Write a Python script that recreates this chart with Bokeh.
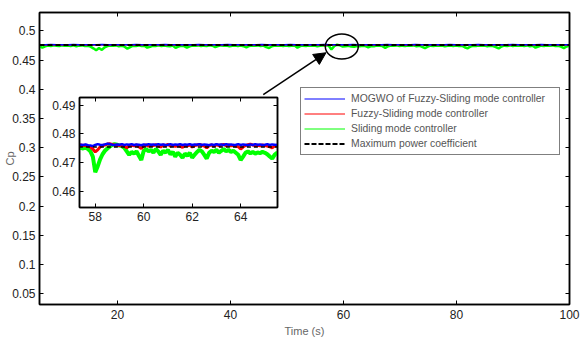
import numpy as np
from bokeh.plotting import figure
from bokeh.models import (Range1d, LinearAxis, FixedTicker, Legend, LegendItem,
                          Arrow, NormalHead, CustomLabelingPolicy)
from bokeh.layouts import column
from bokeh.embed import file_html
from bokeh.resources import INLINE

# ---------------- data ----------------
x_ticks = [20, 40, 60, 80, 100]
x_tick_labels = ["20", "40", "60", "80", "100"]
y_ticks = [0.05, 0.1, 0.15, 0.2, 0.25, 0.3, 0.35, 0.4, 0.45, 0.5]
y_tick_labels = ["0.05", "0.1", "0.15", "0.2", "0.25", "0.3", "0.35", "0.4", "0.45", "0.5"]
inset_x_ticks = [58, 60, 62, 64]
inset_x_tick_labels = ["58", "60", "62", "64"]
inset_y_ticks = [0.46, 0.47, 0.48, 0.49]
inset_y_tick_labels = ["0.46", "0.47", "0.48", "0.49"]

series_labels = ["MOGWO of Fuzzy-Sliding mode controller", "Fuzzy-Sliding mode controller",
                 "Sliding mode controller", "Maximum power coefficient"]
x_title = "Time (s)"
y_title = "Cp"

t_start, t_end = 6.2, 100.0
cp_min_view, cp_max_view = 0.0317, 0.5313
cp_max = [0.4755, 0.4755]

# main view: Sliding mode controller (0.5 s sampling)
smc_main = [
    0.4742, 0.4710, 0.4735, 0.4748, 0.4740, 0.4752, 0.4745, 0.4738, 0.4750, 0.4742, 0.4748,
    0.4740, 0.4752, 0.4736, 0.4746, 0.4750, 0.4738, 0.4744, 0.4730, 0.4700, 0.4668,
    0.4705, 0.4672, 0.4718, 0.4740, 0.4748, 0.4742, 0.4750, 0.4736, 0.4745, 0.4728,
    0.4695, 0.4722, 0.4745, 0.4740, 0.4750, 0.4738, 0.4745, 0.4712, 0.4725, 0.4746,
    0.4740, 0.4752, 0.4738, 0.4748, 0.4741, 0.4735, 0.4748, 0.4708, 0.4730, 0.4745,
    0.4738, 0.4712, 0.4735, 0.4748, 0.4742, 0.4750, 0.4738, 0.4746, 0.4740, 0.4752,
    0.4745, 0.4722, 0.4738, 0.4750, 0.4743, 0.4748, 0.4736, 0.4745, 0.4750, 0.4740,
    0.4748, 0.4736, 0.4715, 0.4740, 0.4748, 0.4742, 0.4750, 0.4738, 0.4746, 0.4720,
    0.4705, 0.4735, 0.4748, 0.4742, 0.4750, 0.4740, 0.4747, 0.4738, 0.4745, 0.4748,
    0.4712, 0.4738, 0.4746, 0.4740, 0.4750, 0.4742, 0.4748, 0.4736, 0.4745, 0.4750,
    0.4752, 0.4748, 0.4680, 0.4738, 0.4762, 0.4750, 0.4732, 0.4735, 0.4745, 0.4732,
    0.4725, 0.4740, 0.4736, 0.4745, 0.4740, 0.4718, 0.4740, 0.4736, 0.4748, 0.4742,
    0.4738, 0.4708, 0.4735, 0.4748, 0.4742, 0.4750, 0.4738, 0.4746, 0.4740, 0.4748,
    0.4742, 0.4750, 0.4736, 0.4745, 0.4725, 0.4702, 0.4730, 0.4746, 0.4740, 0.4750,
    0.4743, 0.4748, 0.4736, 0.4745, 0.4750, 0.4740, 0.4747, 0.4738, 0.4745, 0.4718,
    0.4700, 0.4728, 0.4745, 0.4740, 0.4750, 0.4742, 0.4748, 0.4736, 0.4745, 0.4740,
    0.4722, 0.4698, 0.4732, 0.4746, 0.4740, 0.4750, 0.4738, 0.4746, 0.4742, 0.4748,
    0.4740, 0.4750, 0.4736, 0.4745, 0.4712, 0.4730, 0.4746, 0.4740, 0.4748, 0.4742,
    0.4750, 0.4738, 0.4745, 0.4728, 0.4705, 0.4732, 0.4745,
]
# main view: MOGWO and Fuzzy-Sliding (1 s sampling)
mogwo_main = [
    0.4763, 0.4761, 0.4764, 0.4762, 0.4763, 0.4760, 0.4764, 0.4762, 0.4761, 0.4763,
    0.4762, 0.4764, 0.4761, 0.4763, 0.4762, 0.4760, 0.4763, 0.4764, 0.4762, 0.4761,
    0.4763, 0.4762, 0.4764, 0.4761, 0.4763, 0.4762, 0.4760, 0.4763, 0.4764, 0.4762,
    0.4761, 0.4763, 0.4762, 0.4764, 0.4761, 0.4763, 0.4762, 0.4760, 0.4763, 0.4764,
    0.4762, 0.4761, 0.4763, 0.4762, 0.4764, 0.4761, 0.4763, 0.4762, 0.4760, 0.4763,
    0.4764, 0.4762, 0.4761, 0.4763, 0.4762, 0.4764, 0.4761, 0.4763, 0.4762, 0.4760,
    0.4763, 0.4764, 0.4762, 0.4761, 0.4763, 0.4762, 0.4764, 0.4761, 0.4763, 0.4762,
    0.4760, 0.4763, 0.4764, 0.4762, 0.4761, 0.4763, 0.4762, 0.4764, 0.4761, 0.4763,
    0.4762, 0.4760, 0.4763, 0.4764, 0.4762, 0.4761, 0.4763, 0.4762, 0.4764, 0.4761,
    0.4763, 0.4762, 0.4760, 0.4763,
]
fsmc_main = [
    0.4760, 0.4758, 0.4761, 0.4759, 0.4760, 0.4756, 0.4761, 0.4760, 0.4758, 0.4754,
    0.4760, 0.4761, 0.4759, 0.4760, 0.4757, 0.4761, 0.4760, 0.4752, 0.4759, 0.4760,
    0.4761, 0.4758, 0.4760, 0.4759, 0.4755, 0.4760, 0.4761, 0.4759, 0.4760, 0.4758,
    0.4761, 0.4760, 0.4756, 0.4759, 0.4760, 0.4761, 0.4758, 0.4760, 0.4759, 0.4761,
    0.4753, 0.4760, 0.4759, 0.4761, 0.4760, 0.4758, 0.4760, 0.4761, 0.4759, 0.4760,
    0.4748, 0.4759, 0.4761, 0.4760, 0.4758, 0.4760, 0.4761, 0.4755, 0.4760, 0.4759,
    0.4761, 0.4760, 0.4758, 0.4760, 0.4754, 0.4761, 0.4759, 0.4760, 0.4761, 0.4758,
    0.4760, 0.4759, 0.4761, 0.4760, 0.4756, 0.4760, 0.4761, 0.4759, 0.4760, 0.4758,
    0.4761, 0.4760, 0.4753, 0.4759, 0.4760, 0.4761, 0.4758, 0.4760, 0.4759, 0.4761,
    0.4760, 0.4757, 0.4760, 0.4759,
]

# zoomed window (0.1 s sampling from 57.3 s)
inset_t0, inset_dt = 57.3, 0.1
smc_zoom = [
    0.4750, 0.4752, 0.4750, 0.4753, 0.4748, 0.4740, 0.4722, 0.4668, 0.4688, 0.4712, 0.4730,
    0.4742, 0.4750, 0.4756, 0.4762, 0.4765, 0.4763, 0.4760, 0.4758, 0.4752, 0.4740,
    0.4728, 0.4738, 0.4732, 0.4740, 0.4725, 0.4710, 0.4742, 0.4748, 0.4740, 0.4745,
    0.4735, 0.4748, 0.4740, 0.4728, 0.4742, 0.4736, 0.4745, 0.4730, 0.4738, 0.4722,
    0.4735, 0.4728, 0.4718, 0.4732, 0.4725, 0.4735, 0.4718, 0.4728, 0.4738, 0.4745,
    0.4740, 0.4728, 0.4715, 0.4735, 0.4742, 0.4738, 0.4745, 0.4735, 0.4742, 0.4748,
    0.4740, 0.4745, 0.4738, 0.4742, 0.4735, 0.4728, 0.4710, 0.4722, 0.4735, 0.4740,
    0.4733, 0.4738, 0.4732, 0.4736, 0.4734, 0.4738, 0.4735, 0.4730, 0.4722, 0.4715,
    0.4728, 0.4735, 0.4730,
]
fsmc_zoom = [
    0.4761, 0.4762, 0.4760, 0.4761, 0.4758, 0.4755, 0.4748, 0.4738, 0.4745, 0.4755, 0.4760,
    0.4762, 0.4765, 0.4766, 0.4764, 0.4762, 0.4761, 0.4760, 0.4762, 0.4758, 0.4752,
    0.4760, 0.4761, 0.4759, 0.4762, 0.4756, 0.4750, 0.4760, 0.4762, 0.4758, 0.4761,
    0.4760, 0.4763, 0.4759, 0.4755, 0.4762, 0.4760, 0.4764, 0.4758, 0.4761, 0.4757,
    0.4760, 0.4758, 0.4754, 0.4761, 0.4759, 0.4762, 0.4755, 0.4760, 0.4762, 0.4764,
    0.4761, 0.4758, 0.4752, 0.4760, 0.4762, 0.4759, 0.4763, 0.4760, 0.4762, 0.4764,
    0.4760, 0.4762, 0.4759, 0.4761, 0.4758, 0.4756, 0.4748, 0.4755, 0.4760, 0.4763,
    0.4765, 0.4762, 0.4760, 0.4761, 0.4759, 0.4762, 0.4760, 0.4758, 0.4756, 0.4752,
    0.4758, 0.4761, 0.4760,
]
mogwo_zoom = [
    0.4763, 0.4763, 0.4762, 0.4764, 0.4761, 0.4760, 0.4758, 0.4762, 0.4765, 0.4763,
    0.4762, 0.4764, 0.4766, 0.4765, 0.4763, 0.4762, 0.4764, 0.4763, 0.4765, 0.4762,
    0.4764, 0.4763, 0.4765, 0.4762, 0.4764, 0.4763, 0.4761, 0.4764, 0.4762, 0.4765,
    0.4763, 0.4764, 0.4762, 0.4765, 0.4763, 0.4764, 0.4762, 0.4763, 0.4765, 0.4762,
    0.4764, 0.4763, 0.4765, 0.4762, 0.4764, 0.4763, 0.4765, 0.4762, 0.4764, 0.4763,
    0.4765, 0.4762, 0.4764, 0.4763, 0.4761, 0.4764, 0.4762, 0.4765, 0.4763, 0.4764,
    0.4762, 0.4765, 0.4763, 0.4764, 0.4762, 0.4763, 0.4765, 0.4762, 0.4764, 0.4763,
    0.4761, 0.4764, 0.4762, 0.4765, 0.4763, 0.4764, 0.4762, 0.4763, 0.4765, 0.4762,
    0.4764, 0.4763, 0.4762, 0.4764,
]

# sampling instants
t_smc_main = np.linspace(t_start, t_end, len(smc_main))
t_main = np.linspace(t_start, t_end, len(mogwo_main))
t_zoom = inset_t0 + inset_dt * np.arange(len(mogwo_zoom))
t_cp = [t_start, t_end]

# ---------------- style ----------------
FONT = "Liberation Sans"
BLUE, RED, GREEN = "#0000ff", "#ff0000", "#00ff00"
NO_LABELS = CustomLabelingPolicy(code="for (const i of Array.from(indices)) indices.unset(i)")


def style_axis(ax, ticks, labels, show=True, standoff=4):
    ax.ticker = FixedTicker(ticks=ticks)
    ax.major_tick_in = 4
    ax.major_tick_out = 0
    ax.minor_tick_in = 0
    ax.minor_tick_out = 0
    ax.axis_line_color = "black"
    ax.axis_line_width = 1.5
    ax.major_tick_line_color = "black"
    ax.major_tick_line_width = 1
    ax.major_label_text_font = FONT
    ax.major_label_text_color = "#222222"
    if show:
        ax.major_label_overrides = dict(zip(ticks, labels))
        ax.major_label_text_font_size = "12px"
        ax.major_label_standoff = standoff
    else:
        ax.major_label_policy = NO_LABELS
        ax.major_label_text_font_size = "0px"
        ax.major_label_standoff = 0


p = figure(width=580, height=340, output_backend="svg", toolbar_location=None,
           x_range=Range1d(t_start, t_end), y_range=Range1d(cp_min_view, cp_max_view),
           min_border_left=39, min_border_right=11, min_border_top=12,
           min_border_bottom=36)
p.grid.visible = False
p.outline_line_color = "black"
p.outline_line_width = 1.5
p.background_fill_color = "white"
p.border_fill_color = "white"

style_axis(p.xaxis[0], x_ticks, x_tick_labels, standoff=5)
style_axis(p.yaxis[0], y_ticks, y_tick_labels, standoff=4)
p.xaxis[0].axis_label = x_title
p.yaxis[0].axis_label = y_title
for ax in (p.xaxis[0], p.yaxis[0]):
    ax.axis_label_text_font = FONT
    ax.axis_label_text_font_size = "11px"
    ax.axis_label_text_font_style = "normal"
    ax.axis_label_text_color = "#666666"
p.xaxis[0].axis_label_standoff = 3
p.yaxis[0].axis_label_standoff = -7

top_ax = LinearAxis()
style_axis(top_ax, x_ticks, x_tick_labels, show=False)
p.add_layout(top_ax, "above")
right_ax = LinearAxis()
style_axis(right_ax, y_ticks, y_tick_labels, show=False)
p.add_layout(right_ax, "right")

r_smc = p.line(t_smc_main, smc_main, line_color=GREEN, line_width=2.5)
r_fsmc = p.line(t_main, fsmc_main, line_color=RED, line_width=1.5)
r_mogwo = p.line(t_main, mogwo_main, line_color=BLUE, line_width=1.5)
r_cp = p.line(t_cp, cp_max, line_color="black", line_width=2, line_dash="5 3")

# zoom marker + arrow
p.ellipse(x=[59.7], y=[0.4732], width=33, height=25, width_units="screen",
          height_units="screen", fill_color=None, line_color="black", line_width=1.5)
p.add_layout(Arrow(end=NormalHead(size=12, fill_color="black", line_color="black"),
                   x_start=45.8, y_start=0.3906, x_end=56.9, y_end=0.4624,
                   line_color="black", line_width=1.5))

# legend with thin proxy lines (no visible data)
nan2 = [float("nan"), float("nan")]
leg_blue = p.line(t_cp, nan2, line_color=BLUE, line_width=1)
leg_red = p.line(t_cp, nan2, line_color=RED, line_width=1)
leg_green = p.line(t_cp, nan2, line_color=GREEN, line_width=1)
leg_black = p.line(t_cp, nan2, line_color="black", line_width=2, line_dash="5 2")
legend = Legend(items=[LegendItem(label=lab, renderers=[r]) for lab, r in
                       zip(series_labels, [leg_blue, leg_red, leg_green, leg_black])],
                location=(261, 149), margin=0, padding=3, spacing=0,
                glyph_width=41, glyph_height=15, label_height=15, label_standoff=6,
                label_width=205, label_text_font=FONT, label_text_font_size="10.4px",
                label_text_color="#555555", border_line_color="black",
                border_line_width=1, background_fill_color="white",
                background_fill_alpha=1)
p.add_layout(legend, "center")

# ---------------- inset ----------------
# same left/right borders as the main figure (the column aligns them)
ins = figure(width=248, height=136, output_backend="svg", toolbar_location=None,
             x_range=Range1d(57.35, 65.52), y_range=Range1d(0.4546, 0.4926),
             min_border_left=39, min_border_right=11, min_border_top=4,
             min_border_bottom=22,
             styles={"position": "absolute", "left": "40px", "top": "93px"})
ins.grid.visible = False
ins.outline_line_color = "black"
ins.outline_line_width = 1.5
ins.background_fill_color = "white"
ins.border_fill_alpha = 0
style_axis(ins.xaxis[0], inset_x_ticks, inset_x_tick_labels, standoff=4)
style_axis(ins.yaxis[0], inset_y_ticks, inset_y_tick_labels, standoff=4)
ins_top = LinearAxis()
style_axis(ins_top, inset_x_ticks, inset_x_tick_labels, show=False)
ins.add_layout(ins_top, "above")
ins_right = LinearAxis()
style_axis(ins_right, inset_y_ticks, inset_y_tick_labels, show=False)
ins.add_layout(ins_right, "right")

ins.line(t_zoom, smc_zoom, line_color=GREEN, line_width=4)
ins.line(t_zoom, fsmc_zoom, line_color=RED, line_width=3)
ins.line(t_zoom, mogwo_zoom, line_color=BLUE, line_width=2.5)
ins.line(t_cp, cp_max, line_color="black", line_width=1.5, line_dash="4 3")

layout = column(p, ins, styles={"position": "relative"})

open("out.html", "w").write(file_html(layout, INLINE))
